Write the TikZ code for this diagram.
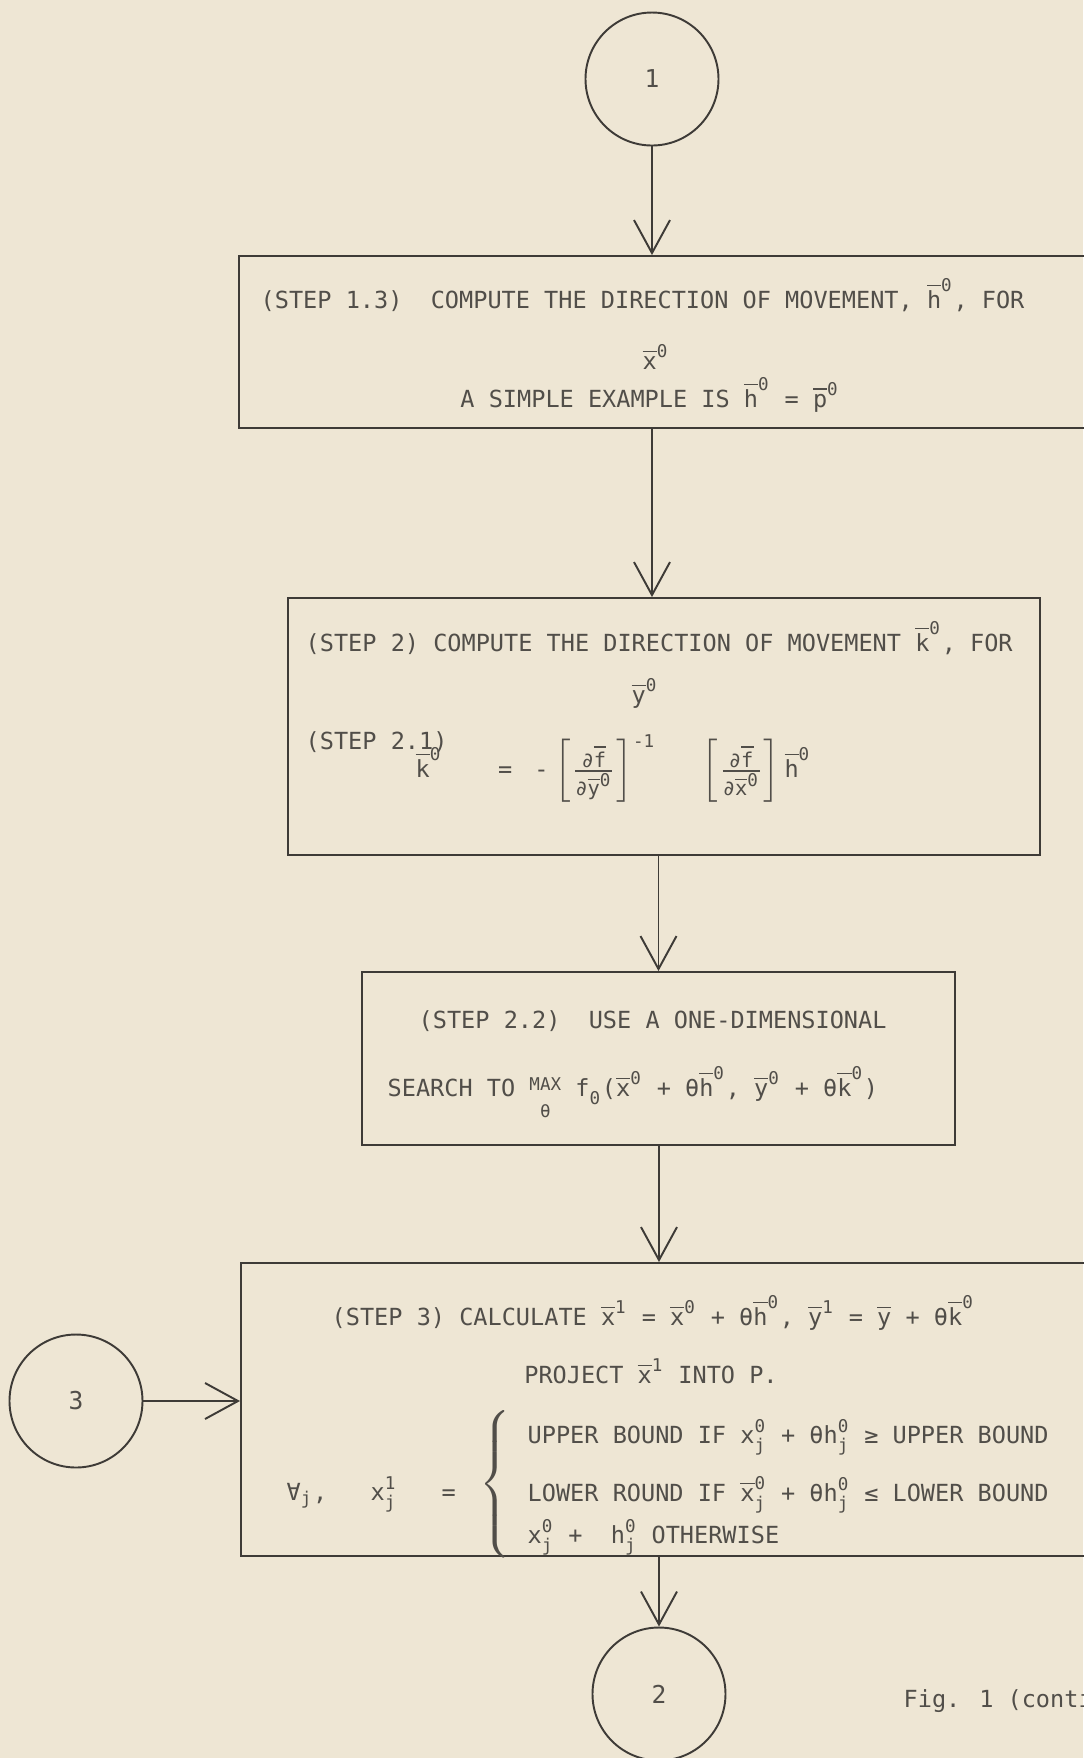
\documentclass[tikz,border=0pt]{standalone}
\usepackage{fontspec}
\setmainfont{DejaVu Sans Mono}
\usepackage{tikz}
\usetikzlibrary{arrows.meta,positioning}
\definecolor{ScanPaper}{HTML}{EEE6D4}
\definecolor{ScanInk}{HTML}{3E3B37}
\definecolor{ScanText}{HTML}{514E49}
\tikzset{
  stepbox/.style={draw=ScanInk, line width=0.55pt, inner sep=0pt},
  connector/.style={circle, draw=ScanInk, line width=0.55pt, minimum size=13.3mm,
    inner sep=0pt, text=ScanText, font=\fontsize{7}{8}\selectfont},
  wire/.style={-{Straight Barb[length=3.3mm, width=3.6mm]}, draw=ScanInk, line width=0.55pt},
  boxtext/.style={text=ScanText, inner sep=0pt, font=\fontsize{6.7}{8}\selectfont}
}
\newcommand{\sm}[1]{\hbox{\fontsize{5}{5}\selectfont #1}}
\newcommand{\fs}[1]{\hbox{\fontsize{5.8}{6}\selectfont #1}}
\newcommand{\vb}[1]{\ensuremath{\overline{\hbox{#1}}}}
\newcommand{\vt}[2]{\ensuremath{\overline{\hbox{#1}}^{\sm{#2}}}}
\newcommand{\cmp}[3]{\ensuremath{\hbox{#1}^{\sm{#2}}_{\sm{#3}}}}
\newcommand{\cmpb}[3]{\ensuremath{\overline{\hbox{#1}}^{\sm{#2}}_{\sm{#3}}}}

\begin{document}
\begin{tikzpicture}[x=0.1mm, y=-0.1mm]
  \useasboundingbox (0,0) rectangle (1083,1758);
  \fill[ScanPaper] (0,0) rectangle (1083,1758);

  % off-page connectors
  \node[connector] (con1) at (652,79) {1};
  \node[connector] (con3) at (76,1401) {3};
  \node[connector] (con2) at (659,1694) {2};

  % step boxes
  \node[stepbox, minimum width=86.1mm, minimum height=17.2mm] (step13) at (669.5,342) {};
  \node[stepbox, minimum width=75.2mm, minimum height=25.7mm] (step2) at (664,726.5) {};
  \node[stepbox, minimum width=59.3mm, minimum height=17.3mm] (step22) at (658.5,1058.5) {};
  \node[stepbox, minimum width=85.9mm, minimum height=29.3mm] (step3) at (670.5,1409.5) {};

  % step 1.3
  \node[boxtext, anchor=base west] (t13a) at (260,308)
    {(STEP 1.3)\ \ COMPUTE THE DIRECTION OF MOVEMENT, \vt{h}{0}, FOR};
  \node[boxtext, anchor=base] (t13b) at (656,369) {\vt{x}{0}};
  \node[boxtext, anchor=base] (t13c) at (650,407) {A SIMPLE EXAMPLE IS \vt{h}{0} = \vt{p}{0}};

  % step 2
  \node[boxtext, anchor=base west] (t2a) at (305,651)
    {(STEP 2) COMPUTE THE DIRECTION OF MOVEMENT \vt{k}{0}, FOR};
  \node[boxtext, anchor=base] (t2b) at (645,703) {\vt{y}{0}};
  \node[boxtext, anchor=base west] (t2c) at (305,749) {(STEP 2.1)};
  \node[boxtext, anchor=base west] (t2d) at (415,777)
    {\vt{k}{0}\hspace{5.6mm}=\hspace{2.2mm}-\hspace{0.6mm}$
     \left[\frac{\fs{∂}\overline{\fs{f}}}{\fs{∂}\overline{\fs{y}}^{\sm{0}}}\right]^{\sm{-1}}$\hspace{4.6mm}$
     \left[\frac{\fs{∂}\overline{\fs{f}}}{\fs{∂}\overline{\fs{x}}^{\sm{0}}}\right]$\hspace{0.4mm}\vt{h}{0}};

  % step 2.2
  \node[boxtext, anchor=base west] (t22a) at (418,1028) {(STEP 2.2)\ \ USE A ONE-DIMENSIONAL};
  \node[boxtext, anchor=base west] (t22b) at (387,1096)
    {SEARCH TO $\mathop{\raisebox{1.5pt}{\sm{MAX}}}\limits_{\sm{θ}}$ \cmp{f}{}{0}(\vt{x}{0} + θ\vt{h}{0}, \vt{y}{0} + θ\vt{k}{0})};

  % step 3
  \node[boxtext, anchor=base west] (t3a) at (331,1325)
    {(STEP 3) CALCULATE \vt{x}{1} = \vt{x}{0} + θ\vt{h}{0}, \vt{y}{1} = \vb{y} + θ\vt{k}{0}};
  \node[boxtext, anchor=base] (t3b) at (651,1383) {PROJECT \vt{x}{1} INTO P.};
  \node[boxtext, anchor=base west] (t3c) at (286,1500) {\ensuremath{\hbox{∀}_{\sm{j}}},};
  \node[boxtext, anchor=base west] (t3d) at (370,1500) {\cmp{x}{1}{j}};
  \node[boxtext, anchor=base west] (t3e) at (441,1500) {=};
  \node[boxtext] (t3f) at (497,1484) {$\left\{\vrule height 19pt depth 19pt width 0pt\right.$};
  \node[boxtext, anchor=base west] (t3g) at (527,1443)
    {UPPER BOUND IF \cmp{x}{0}{j} + θ\cmp{h}{0}{j} ≥ UPPER BOUND};
  \node[boxtext, anchor=base west] (t3h) at (527,1501)
    {LOWER ROUND IF \cmpb{x}{0}{j} + θ\cmp{h}{0}{j} ≤ LOWER BOUND};
  \node[boxtext, anchor=base west] (t3i) at (527,1543)
    {\cmp{x}{0}{j} +\ \ \cmp{h}{0}{j} OTHERWISE};

  \node[boxtext, anchor=base west] (fig) at (903,1707) {Fig. 1 (continued)};

  % flow
  \draw[wire] (con1) -- (con1 |- step13.north);
  \draw[wire] (step13.south -| con1) -- (step2.north -| con1);
  \draw[wire] (step2.south -| step22) -- (step22);
  \draw[wire] (step22.south -| con2) -- (step3.north -| con2);
  \draw[wire] (con3) -- (con3 -| step3.west);
  \draw[wire] (step3.south -| con2) -- (con2);
\end{tikzpicture}
\end{document}
